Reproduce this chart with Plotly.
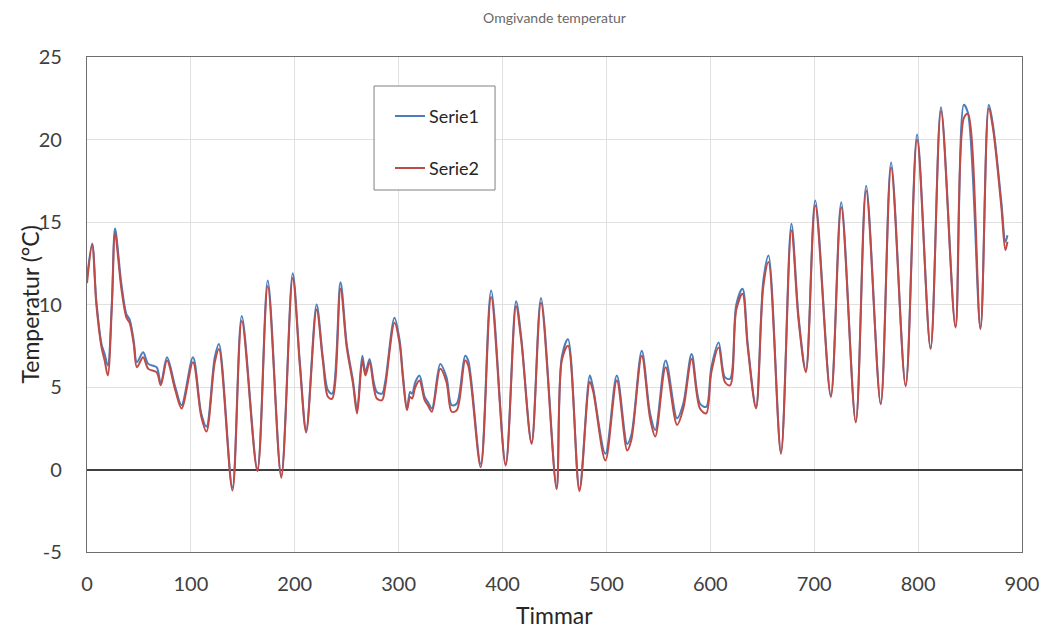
import plotly.graph_objects as go

# Hourly ambient temperature, sampled at turning points and shoulders (timmar, °C)
timmar = [
    0, 5, 9, 14, 17, 20, 24, 27, 33, 38, 41, 45, 48, 54, 59, 67, 71, 77, 85, 91,
    102, 110, 115, 123, 127, 140, 149, 164, 174, 187, 198, 205, 211, 221, 227, 232,
    236, 244, 250, 256, 260, 265, 268, 272, 276, 279, 284, 287, 296, 301, 304, 308,
    311, 313, 316, 320, 325, 328, 332, 340, 346, 351, 356, 364, 367, 379, 389, 403,
    413, 418, 428, 437, 452, 457, 463, 474, 484, 487, 499, 510, 520, 524, 534, 542,
    547, 557, 568, 574, 582, 590, 596, 601, 608, 614, 619, 625, 631, 636, 644, 651,
    656, 668, 678, 685, 692, 701, 716, 726, 740, 750, 764, 774, 788, 799, 812, 822,
    836, 844, 848, 860, 868, 872, 880, 884, 886,
]

serie1 = [
    11.6, 13.7, 10.2, 7.6, 7.0, 6.3, 10.2, 14.6, 11.3, 9.4, 9.1, 7.8, 6.5, 7.1, 6.4, 6.2, 5.2, 6.8, 5.0, 3.9,
    6.8, 3.4, 2.6, 6.8, 7.6, -1.1, 9.3, 0.05, 11.45, -0.36, 11.9, 6.4, 2.4, 10.0, 6.8, 4.8,
    4.6, 11.35, 7.6, 5.4, 3.6, 6.9, 5.9, 6.7, 5.3, 4.7, 4.6, 5.3, 9.2, 7.8, 5.8, 3.7,
    4.7, 4.6, 5.3, 5.7, 4.4, 4.1, 3.7, 6.4, 5.6, 3.9, 4.0, 6.9, 6.6, 0.34, 10.85, 0.34,
    10.2, 8.0, 1.65, 10.4, -1.07, 6.8, 7.9, -1.17, 5.7, 5.0, 0.95, 5.7, 1.55, 2.1, 7.2, 3.4,
    2.4, 6.6, 3.1, 4.0, 7.0, 4.0, 3.8, 6.2, 7.7, 5.6, 5.5, 10.0, 10.95, 7.6, 3.8, 11.45,
    12.97, 1.05, 14.9, 9.2, 6.0, 16.3, 4.5, 16.2, 2.9, 17.2, 4.0, 18.6, 5.1, 20.3, 7.35, 21.95,
    8.65, 22.1, 21.6, 8.6, 22.1, 20.9, 16.3, 13.8, 14.2,
]

serie2 = [
    11.3, 13.6, 10.0, 7.4, 6.6, 5.7, 10.0, 14.3, 11.0, 9.2, 8.9, 7.6, 6.2, 6.8, 6.1, 5.9, 5.1, 6.6, 4.8, 3.7,
    6.5, 3.2, 2.3, 6.5, 7.3, -1.27, 9.0, -0.1, 11.1, -0.5, 11.6, 6.2, 2.25, 9.7, 6.6, 4.4,
    4.3, 10.95, 7.4, 5.2, 3.4, 6.6, 5.7, 6.5, 5.0, 4.3, 4.2, 5.0, 8.9, 7.6, 5.6, 3.6,
    4.4, 4.3, 5.0, 5.4, 4.2, 3.9, 3.5, 6.1, 5.3, 3.5, 3.6, 6.6, 6.3, 0.14, 10.45, 0.24,
    9.9, 7.8, 1.55, 10.1, -1.2, 6.6, 7.5, -1.3, 5.3, 4.8, 0.55, 5.4, 1.15, 1.8, 6.9, 3.1,
    2.0, 6.2, 2.7, 3.7, 6.7, 3.7, 3.4, 5.9, 7.4, 5.3, 5.1, 9.7, 10.65, 7.4, 3.7, 11.1,
    12.57, 0.95, 14.5, 9.0, 5.9, 16.0, 4.4, 15.9, 2.85, 16.9, 3.95, 18.3, 5.05, 20.0, 7.3, 21.75,
    8.6, 21.3, 21.55, 8.5, 21.9, 20.7, 16.0, 13.3, 13.8,
]

series_names = ["Serie1", "Serie2"]
series_colors = ["#4a7ebb", "#be4b48"]

x_ticks = list(range(0, 901, 100))
y_ticks = list(range(-5, 26, 5))

font_family = "Lato, 'Open Sans', sans-serif"
grid_color = "#e0e0e0"
frame_color = "#6e6e6e"

fig = go.Figure()
for values, name, color in zip([serie1, serie2], series_names, series_colors):
    fig.add_trace(go.Scatter(
        x=timmar, y=values, name=name, mode="lines",
        line=dict(color=color, width=2, shape="spline", smoothing=0.9),
    ))

# Legend box drawn in paper coordinates, inside the plot area
box_x0, box_x1 = 0.307, 0.4364
box_y0, box_y1 = 0.7313, 0.9414
sample_x0, sample_x1 = 0.3294, 0.3615
entry_y = [0.8808, 0.7758]
shapes = [dict(
    type="rect", xref="paper", yref="paper",
    x0=box_x0, x1=box_x1, y0=box_y0, y1=box_y1,
    line=dict(color="#808080", width=1), fillcolor="white", layer="above",
)]
annotations = []
for name, color, ey in zip(series_names, series_colors, entry_y):
    shapes.append(dict(
        type="line", xref="paper", yref="paper",
        x0=sample_x0, x1=sample_x1, y0=ey, y1=ey,
        line=dict(color=color, width=2), layer="above",
    ))
    annotations.append(dict(
        text=name, xref="paper", yref="paper", x=sample_x1 + 0.002, y=ey,
        xanchor="left", yanchor="middle", showarrow=False,
        font=dict(size=18, color="#262626", family=font_family),
    ))

# Axis titles placed as annotations for exact positioning
annotations.append(dict(
    text="Timmar", xref="paper", yref="paper", x=0.5, y=-0.127,
    xanchor="center", yanchor="middle", showarrow=False,
    font=dict(size=23, color="#262626", family=font_family),
))
annotations.append(dict(
    text="Temperatur (°C)", xref="paper", yref="paper", x=-0.062, y=0.5,
    xanchor="center", yanchor="middle", showarrow=False, textangle=-90,
    font=dict(size=23, color="#262626", family=font_family),
))

fig.update_layout(
    width=1044, height=628,
    margin=dict(l=87, r=22, t=57, b=76, autoexpand=False),
    paper_bgcolor="white", plot_bgcolor="white",
    font=dict(family=font_family, color="#404040"),
    title=dict(
        text="Omgivande temperatur", x=0.5, xref="paper", xanchor="center",
        y=0.971, yref="container", yanchor="middle",
        font=dict(size=14, color="#6a6a6a", family=font_family),
    ),
    showlegend=False,
    shapes=shapes,
    annotations=annotations,
)

fig.update_xaxes(
    range=[0, 900], tickvals=x_ticks, ticktext=[str(v) for v in x_ticks],
    automargin=False,
    showgrid=True, gridcolor=grid_color, gridwidth=1,
    showline=True, linecolor=frame_color, linewidth=1.3, mirror=True,
    zeroline=False, ticks="outside", ticklen=14, tickcolor="rgba(0,0,0,0)",
    tickfont=dict(size=20, color="#404040"),
)
fig.update_yaxes(
    range=[-5, 25], tickvals=y_ticks, ticktext=[str(v) for v in y_ticks],
    automargin=False,
    showgrid=True, gridcolor=grid_color, gridwidth=1,
    showline=True, linecolor=frame_color, linewidth=1.3, mirror=True,
    zeroline=True, zerolinecolor="#404040", zerolinewidth=1.5,
    ticks="outside", ticklen=20, tickcolor="rgba(0,0,0,0)",
    tickfont=dict(size=20, color="#404040"),
)

fig.write_html("out.html")
